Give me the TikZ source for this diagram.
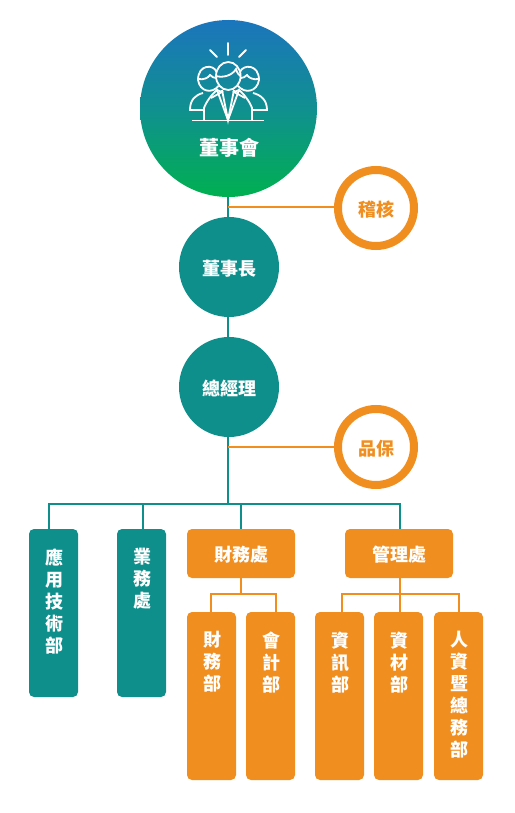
\documentclass[tikz,border=0pt]{standalone}
\usepackage{fontspec}
\setmainfont{Noto Sans CJK TC}
\usepackage{xcolor}
\usetikzlibrary{calc,positioning}
\definecolor{boardBlue}{HTML}{1B75BC}
\definecolor{boardTeal}{HTML}{109090}
\definecolor{boardGreen}{HTML}{00B050}
\definecolor{deptTeal}{HTML}{0F8F8C}
\definecolor{deptOrange}{HTML}{F08E20}
\tikzset{
  labelfont/.style={font=\fontsize{18}{22}\selectfont\bfseries, text height=18pt, text depth=1.4pt},
  officer/.style={circle, fill=deptTeal, minimum size=100pt, inner sep=0pt, text=white, labelfont},
  auditor/.style={circle, draw=deptOrange, line width=8pt, fill=white, minimum size=76pt, inner sep=0pt, text=deptOrange, labelfont},
  tealbox/.style={rounded corners=5pt, fill=deptTeal, minimum width=49pt, minimum height=168pt, inner sep=0pt},
  orangebox/.style={rounded corners=5pt, fill=deptOrange, minimum width=49pt, minimum height=168pt, inner sep=0pt},
  headbox/.style={rounded corners=5pt, fill=deptOrange, minimum width=108pt, minimum height=49pt, inner sep=0pt, text=white, labelfont},
  vlabel/.style={text=white, align=center, inner sep=0pt, xshift=.5pt, font=\fontsize{18}{22}\selectfont\bfseries},
  tealline/.style={draw=deptTeal, line width=2pt},
  orangeline/.style={draw=deptOrange, line width=2pt},
  iconline/.style={draw=white, line width=1.8pt}
}
\begin{document}
\begin{tikzpicture}[x=1pt,y=-1pt]
  \useasboundingbox (0,0) rectangle (514,813);
  % main column
  \node[circle, minimum size=177pt, inner sep=0pt, top color=boardBlue, bottom color=boardGreen, middle color=boardTeal] (board) at (228.5,108.5) {};
  \node[text=white, font=\fontsize{20}{24}\selectfont\bfseries] (boardtext) at (229,148) {董事會};
  \node[officer] (chair) at (229,267) {董事長};
  \node[officer] (manager) at (229,387) {總經理};
  \node[auditor] (audit) at (376,208) {稽核};
  \node[auditor] (quality) at (376,447) {品保};
  % teal boxes and head offices
  \node[tealbox] (tech) at (53.5,613) {};
  \node[tealbox] (sales) at (141.5,613) {};
  \node[headbox] (finance) at (241,553.5) {財務處};
  \node[headbox] (admin) at (399,553.5) {管理處};
  % lower departments
  \foreach \nm/\x in {accounts/211.5, ledger/270.5, infosys/339.5, material/398.5, staff/458.5}
    \node[orangebox] (\nm) at (\x,696) {};
  % labels inside the boxes
  \node[vlabel, below=19.5pt of tech.north] (techtext) {應\\用\\技\\術\\部};
  \node[vlabel, below=19.5pt of sales.north] (salestext) {業\\務\\處};
  \node[vlabel, below=19.5pt of accounts.north] (accountstext) {財\\務\\部};
  \node[vlabel, below=19.5pt of ledger.north] (ledgertext) {會\\計\\部};
  \node[vlabel, below=19.5pt of infosys.north] (infosystext) {資\\訊\\部};
  \node[vlabel, below=19.5pt of material.north] (materialtext) {資\\材\\部};
  \node[vlabel, below=19.5pt of staff.north] (stafftext) {人\\資\\暨\\總\\務\\部};
  % connectors
  \coordinate (auditjoin) at (228,207);
  \coordinate (qualityjoin) at (228,447);
  \coordinate (busjoin) at (228,504);
  \coordinate (bustech) at (49,504);
  \coordinate (bussales) at (143,504);
  \coordinate (busfinance) at (241,504);
  \coordinate (busadmin) at (400,504);
  \coordinate (financebus) at (241,594);
  \coordinate (adminbus) at (400,594);
  \draw[tealline] (board.south -| auditjoin) -- (auditjoin |- chair.north);
  \draw[tealline] (auditjoin |- chair.south) -- (auditjoin |- manager.north);
  \draw[tealline] (auditjoin |- manager.south) -- (busjoin);
  \draw[orangeline] (auditjoin) -- (audit.west |- auditjoin);
  \draw[orangeline] (qualityjoin) -- (quality.west);
  \draw[tealline, line cap=rect] (bustech) -- (busadmin);
  \foreach \tp/\bx in {bustech/tech, bussales/sales, busfinance/finance, busadmin/admin}
    \draw[tealline] (\tp) -- (\tp |- \bx.north);
  \draw[orangeline] (financebus |- finance.south) -- (financebus);
  \draw[orangeline] (adminbus |- admin.south) -- (adminbus);
  \draw[orangeline, line cap=rect] (211,594) coordinate (fl) -- (276,594) coordinate (fr);
  \draw[orangeline, line cap=rect] (342,594) coordinate (al) -- (459,594) coordinate (ar);
  \foreach \tp/\bx in {fl/accounts, fr/ledger, al/infosys, adminbus/material, ar/staff}
    \draw[orangeline] (\tp) -- (\tp |- \bx.north);
  % people icon
  \draw[iconline, line cap=round] (228,43) -- (228,55);
  \draw[iconline, line cap=round] (210,50) -- (217,57);
  \draw[iconline, line cap=round] (246,50) -- (239,57);
  \draw[iconline] (228.3,76) ellipse (12.3 and 14);
  \draw[iconline] (216,76) .. controls (222,78) and (232,76) .. (236,69) .. controls (237,73) and (239,75) .. (240.5,76);
  \draw[iconline] (218.5,86) .. controls (212,94) and (200,92) .. (198,80) .. controls (198,64) and (214,64) .. (216.5,72);
  \draw[iconline] (238,86) .. controls (245,94) and (257,92) .. (259,80) .. controls (259,64) and (243,64) .. (240,72);
  \draw[iconline] (198,79) .. controls (204,80) and (208,78) .. (210,75) .. controls (212,77) and (214,78) .. (216,78);
  \draw[iconline] (259,79) .. controls (253,80) and (249,78) .. (247,75) .. controls (245,77) and (243,78) .. (241,78);
  \draw[iconline] (192,120.5) -- (264,120.5);
  \draw[iconline] (204,120) -- (204,108) .. controls (206,102) and (212,94) .. (217,90) -- (228,120) -- (239,90) .. controls (244,94) and (250,102) .. (252,108) -- (252,120);
  \draw[iconline] (222,90) -- (228,120) -- (234,90);
  \draw[iconline] (217,90) -- (222,92) -- (211,98);
  \draw[iconline] (239,90) -- (234,92) -- (245,98);
  \draw[iconline] (203,93) .. controls (195,95) and (190,100) .. (190,110) -- (204,110);
  \draw[iconline] (253,93) .. controls (261,95) and (267,100) .. (267,110) -- (252,110);
\end{tikzpicture}
\end{document}
